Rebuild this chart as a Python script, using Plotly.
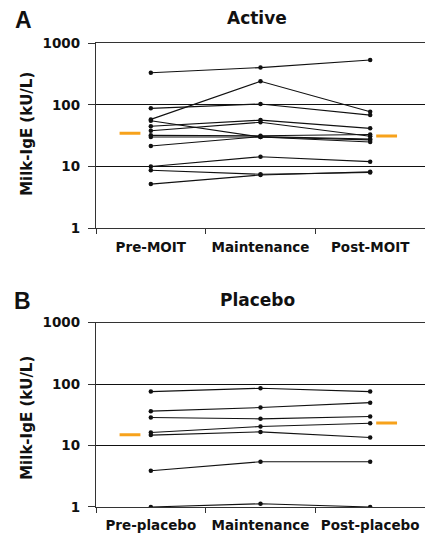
import plotly.graph_objects as go

# ---------------- data ----------------
active_categories = ["Pre-MOIT", "Maintenance", "Post-MOIT"]
placebo_categories = ["Pre-placebo", "Maintenance", "Post-placebo"]

active_pre = [330, 58, 87.5, 55, 45, 38, 32, 30, 21.5, 10, 8.7, 5.2]
active_maint = [400, 240, 103, 30, 56.5, 52, 31.5, 30, 30.5, 14.4, 7.5, 7.3]
active_post = [530, 77, 68, 27, 41.5, 31, 33, 25, 28, 12, 8, 8.2]
active_median = [34.5, 31.2]  # pre, post

placebo_pre = [75.6, 36.3, 28.6, 16.3, 14.8, 3.9, 1.0]
placebo_maint = [85.7, 41.6, 27.2, 20.4, 16.7, 5.45, 1.13]
placebo_post = [75.6, 50, 29.7, 23.1, 13.5, 5.45, 1.0]
placebo_median = [15, 23.2]

y_ticks = [1, 10, 100, 1000]

# ---------------- figure ----------------
fig = go.Figure()
ORANGE = "#F7A21B"
FONT = "DejaVu Sans"
INK = "#111"
AX = "#333"


def add_panel(pre, maint, post, med, xa, ya):
    for a, b, c in zip(pre, maint, post):
        fig.add_trace(go.Scatter(
            x=[0, 1, 2], y=[a, b, c], mode="lines+markers",
            line=dict(color=INK, width=1.1),
            marker=dict(color=INK, size=4.5),
            xaxis=xa, yaxis=ya, showlegend=False, hoverinfo="skip"))
    # median bars
    for cx, v in zip([-0.19, 2.15], med):
        fig.add_trace(go.Scatter(
            x=[cx - 0.095, cx + 0.095], y=[v, v], mode="lines",
            line=dict(color=ORANGE, width=3),
            xaxis=xa, yaxis=ya, showlegend=False, hoverinfo="skip"))


add_panel(active_pre, active_maint, active_post, active_median, "x", "y")
add_panel(placebo_pre, placebo_maint, placebo_post, placebo_median, "x2", "y2")


def xaxis_cfg(labels, anchor):
    return dict(
        domain=[0, 1], anchor=anchor, range=[-0.5, 2.5],
        tickmode="array", tickvals=[0, 1, 2],
        ticktext=["<b>%s</b>" % s for s in labels],
        ticks="", showgrid=False, zeroline=False,
        showline=True, linecolor=AX, linewidth=1.3, mirror=True,
        tickfont=dict(family=FONT, size=13.5, color=INK), ticklabelstandoff=6,
        minor=dict(tickvals=[-0.5, 0.5, 1.5, 2.5], ticks="outside",
                   ticklen=5, tickcolor=AX, tickwidth=1.3, showgrid=False),
    )


def yaxis_cfg(domain, anchor):
    return dict(
        domain=domain, anchor=anchor, type="log", range=[0, 3],
        tickmode="array", tickvals=y_ticks,
        ticktext=["<b>%d</b>" % v for v in y_ticks],
        ticks="outside", ticklen=7, tickcolor=AX, tickwidth=1.3,
        showgrid=True, gridcolor=INK, gridwidth=1.3, zeroline=False,
        showline=True, linecolor=AX, linewidth=1.3,
        tickfont=dict(family=FONT, size=13.5, color=INK), ticklabelstandoff=5,
    )


fig.update_layout(
    width=425, height=540,
    margin=dict(l=96, r=0, t=43, b=33),
    paper_bgcolor="white", plot_bgcolor="white",
    xaxis=xaxis_cfg(active_categories, "y"),
    yaxis=yaxis_cfg([0.6006, 1], "x"),
    xaxis2=xaxis_cfg(placebo_categories, "y2"),
    yaxis2=yaxis_cfg([0, 0.3972], "x2"),
    showlegend=False,
)

annotations = [
    dict(text="<b>Active</b>", x=0.49, y=1.0, yshift=25, xref="paper", yref="paper",
         yanchor="middle", showarrow=False, font=dict(family=FONT, size=17, color=INK)),
    dict(text="<b>Placebo</b>", x=0.49, y=0.3972, yshift=23, xref="paper", yref="paper",
         yanchor="middle", showarrow=False, font=dict(family=FONT, size=17, color=INK)),
    dict(text="<b>A</b>", x=-0.22, y=1.0, yshift=23, xref="paper", yref="paper",
         xanchor="center", yanchor="middle", showarrow=False,
         font=dict(family="Liberation Sans", size=23, color=INK)),
    dict(text="<b>B</b>", x=-0.222, y=0.3972, yshift=22, xref="paper", yref="paper",
         xanchor="center", yanchor="middle", showarrow=False,
         font=dict(family="Liberation Sans", size=23, color=INK)),
    dict(text="<b>Milk-IgE (kU/L)</b>", x=-0.21, y=0.804, xref="paper", yref="paper",
         xanchor="center", yanchor="middle",
         textangle=-90, showarrow=False, font=dict(family=FONT, size=15, color=INK)),
    dict(text="<b>Milk-IgE (kU/L)</b>", x=-0.21, y=0.192, xref="paper", yref="paper",
         xanchor="center", yanchor="middle",
         textangle=-90, showarrow=False, font=dict(family=FONT, size=15, color=INK)),
]
fig.update_layout(annotations=annotations)

fig.write_html("out.html", config={"displayModeBar": False},
               post_script="document.body.style.margin='0';")
